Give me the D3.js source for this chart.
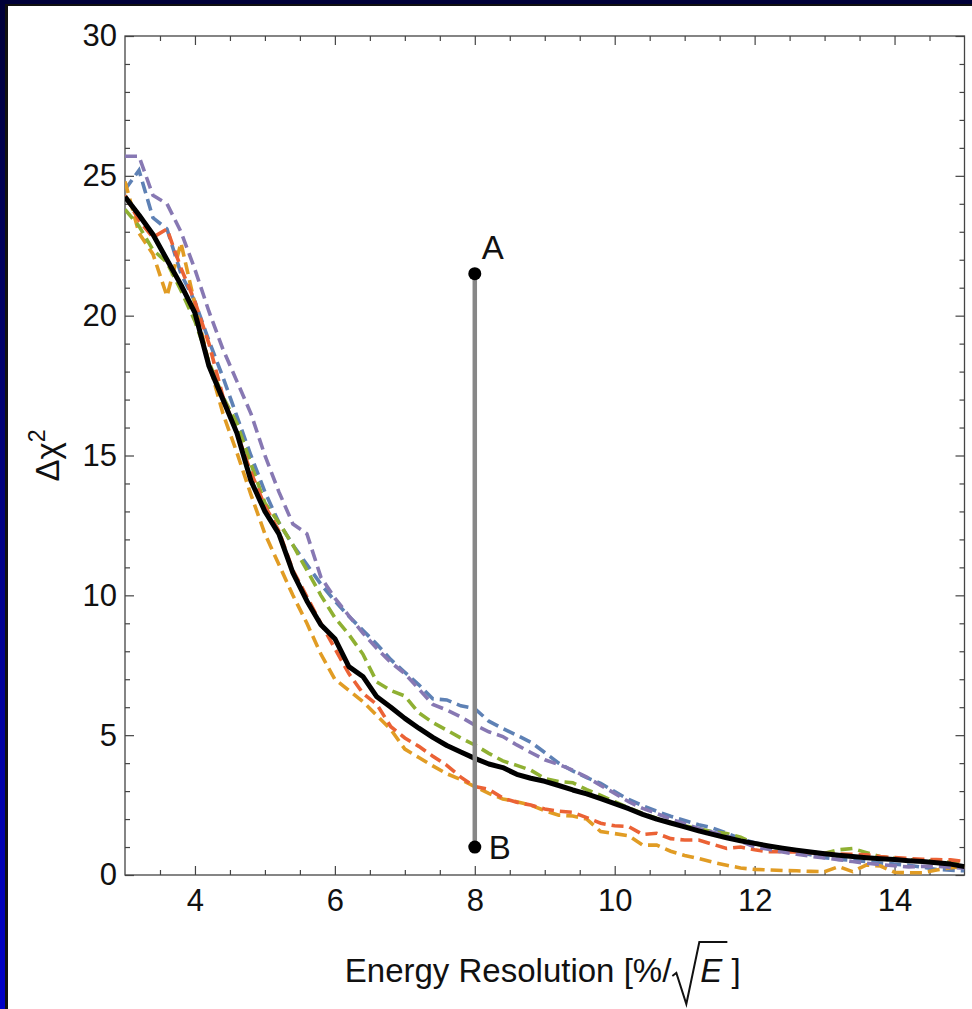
<!DOCTYPE html>
<html>
<head>
<meta charset="utf-8">
<script src="https://cdn.jsdelivr.net/npm/d3@7"></script>
<style>
  html, body { margin: 0; padding: 0; background: #000; }
  svg { display: block; }
  text { font-family: "Liberation Sans", Arial, Helvetica, sans-serif; fill: #111; }
</style>
</head>
<body>
<svg id="chart"></svg>
<script>
// Energy resolution grid (%/sqrt(E))
const xs = [3.0, 3.2, 3.4, 3.6, 3.8, 4.0, 4.2, 4.4, 4.6, 4.8,
            5.0, 5.2, 5.4, 5.6, 5.8, 6.0, 6.2, 6.4, 6.6, 6.8,
            7.0, 7.2, 7.4, 7.6, 7.8, 8.0, 8.2, 8.4, 8.6, 8.8,
            9.0, 9.2, 9.4, 9.6, 9.8, 10.0, 10.2, 10.4, 10.6, 10.8,
            11.0, 11.2, 11.4, 11.6, 11.8, 12.0, 12.2, 12.4, 12.6, 12.8,
            13.0, 13.2, 13.4, 13.6, 13.8, 14.0, 14.2, 14.4, 14.6, 14.8, 15.0];

// Delta chi^2 curves
const meanCurve = [24.25, 23.6, 22.9, 22.0, 21.1, 20.1, 18.2, 17.0, 15.8, 14.1,
                   13.0, 12.2, 10.8, 9.8, 8.95, 8.45, 7.45, 7.1, 6.37, 6.0,
                   5.6, 5.25, 4.92, 4.63, 4.4, 4.17, 3.97, 3.84, 3.6, 3.46,
                   3.35, 3.2, 3.04, 2.9, 2.73, 2.55, 2.37, 2.17, 2.0, 1.86,
                   1.72, 1.58, 1.45, 1.33, 1.22, 1.13, 1.04, 0.96, 0.89, 0.82,
                   0.76, 0.71, 0.66, 0.62, 0.58, 0.55, 0.51, 0.48, 0.44, 0.39, 0.30];
const blueRun = [24.5, 25.2, 23.5, 23.1, 21.5, 20.5, 19.1, 17.8, 16.4, 15.0,
                 13.7, 12.6, 11.8, 11.1, 10.4, 9.8, 9.25, 8.75, 8.25, 7.7,
                 7.25, 6.8, 6.3, 6.26, 6.05, 5.95, 5.5, 5.24, 5.0, 4.75,
                 4.38, 4.0, 3.72, 3.48, 3.28, 2.98, 2.7, 2.48, 2.28, 2.1,
                 1.95, 1.8, 1.68, 1.5, 1.3, 1.15, 1.03, 0.93, 0.83, 0.72,
                 0.62, 0.56, 0.52, 0.48, 0.43, 0.39, 0.35, 0.28, 0.2, 0.17, 0.15];
const orangeRun = [24.8, 22.95, 22.2, 20.7, 22.6, 20.4, 18.3, 16.5, 15.1, 13.6,
                   12.2, 11.1, 10.0, 9.0, 7.9, 7.0, 6.6, 6.2, 5.7, 5.2,
                   4.5, 4.2, 3.9, 3.62, 3.41, 3.16, 2.92, 2.72, 2.62, 2.5,
                   2.3, 2.14, 2.11, 2.0, 1.55, 1.48, 1.4, 1.07, 1.07, 0.85,
                   0.7, 0.59, 0.46, 0.35, 0.25, 0.2, 0.18, 0.16, 0.15, 0.13,
                   0.12, 0.3, 0.12, 0.36, 0.32, 0.1, 0.08, 0.08, 0.18, 0.26, 0.3];
const greenRun = [23.8, 23.2, 22.35, 21.9, 20.9, 19.8, 18.35, 17.1, 16.15, 14.7,
                  13.3, 12.6, 11.8, 10.9, 10.0, 9.2, 8.6, 7.9, 6.9, 6.6,
                  6.4, 5.8, 5.45, 5.18, 4.9, 4.65, 4.35, 4.08, 3.92, 3.75,
                  3.45, 3.34, 3.3, 3.05, 2.85, 2.62, 2.4, 2.2, 2.03, 1.88,
                  1.76, 1.65, 1.55, 1.48, 1.35, 1.12, 1.02, 0.93, 0.87, 0.82,
                  0.78, 0.9, 0.95, 0.8, 0.65, 0.6, 0.55, 0.52, 0.5, 0.45, 0.4];
const redRun = [24.3, 23.4, 22.8, 23.1, 21.7, 20.5, 19.0, 17.1, 15.8, 14.4,
                13.2, 12.3, 10.9, 9.95, 9.0, 8.1, 7.2, 6.5, 6.1, 5.3,
                4.9, 4.6, 4.25, 3.92, 3.5, 3.16, 3.06, 2.75, 2.6, 2.5,
                2.36, 2.28, 2.24, 2.05, 1.85, 1.76, 1.73, 1.45, 1.49, 1.3,
                1.25, 1.25, 1.1, 0.95, 1.0, 0.9, 0.83, 0.83, 0.82, 0.8,
                0.77, 0.75, 0.74, 0.72, 0.66, 0.62, 0.59, 0.56, 0.55, 0.54, 0.48];
const purpleRun = [25.7, 25.7, 24.3, 24.0, 23.0, 21.65, 20.15, 18.8, 17.65, 16.5,
                   15.0, 13.7, 12.55, 12.2, 10.65, 9.9, 9.27, 8.65, 8.1, 7.6,
                   7.2, 6.65, 6.1, 5.9, 5.65, 5.36, 5.12, 4.95, 4.65, 4.38,
                   4.12, 3.95, 3.75, 3.5, 3.2, 2.92, 2.62, 2.38, 2.2, 2.0,
                   1.83, 1.66, 1.53, 1.4, 1.2, 1.0, 0.92, 0.82, 0.74, 0.67,
                   0.61, 0.55, 0.48, 0.42, 0.37, 0.33, 0.29, 0.31, 0.31, 0.28, 0.24];

const dashedSeries = [
    { name: 'blue', values: blueRun, color: '#5E81B5' },
    { name: 'orange', values: orangeRun, color: '#E19C24' },
    { name: 'green', values: greenRun, color: '#8FB032' },
    { name: 'red', values: redRun, color: '#EB6235' },
    { name: 'purple', values: purpleRun, color: '#8778B3' }
];

// Marked points A and B at 8 %/sqrt(E)
const markers = [
    { label: 'A', x: 8, y: 21.5 },
    { label: 'B', x: 8, y: 1.0 }
];

const xMajor = [4, 6, 8, 10, 12, 14];
const yMajor = [0, 5, 10, 15, 20, 25, 30];

const config = {
    width: 972,
    height: 1009,
    plot: { left: 125, right: 964.5, top: 36, bottom: 875 },
    tickFont: 31,
    titleFont: 33
};

const svg = d3.select('#chart')
    .attr('width', config.width)
    .attr('height', config.height);

// Slide-style background: blue gradient, dark edge, white sheet
const defs = svg.append('defs');
const grad = defs.append('linearGradient')
    .attr('id', 'bg')
    .attr('x1', 0).attr('y1', 0).attr('x2', 0).attr('y2', 1);
grad.append('stop').attr('offset', '0%').attr('stop-color', '#000038');
grad.append('stop').attr('offset', '100%').attr('stop-color', '#0000c8');

svg.append('rect').attr('width', config.width).attr('height', config.height).attr('fill', 'url(#bg)');
svg.append('rect').attr('x', 5).attr('y', 4).attr('width', config.width).attr('height', config.height).attr('fill', '#111');
svg.append('rect').attr('x', 8).attr('y', 6).attr('width', config.width).attr('height', config.height).attr('fill', '#fff');

// Scales
const x = d3.scaleLinear().domain([3, 15]).range([config.plot.left, config.plot.right]);
const y = d3.scaleLinear().domain([0, 30]).range([config.plot.bottom, config.plot.top]);

const xMinor = d3.range(3.5, 15, 0.5).filter(v => !xMajor.includes(v));
const yMinor = d3.range(1, 30, 1).filter(v => !yMajor.includes(v));

const axesGroup = svg.append('g').attr('class', 'axes');

function tickAxis(axisFn, scale, values, size, transform) {
    const g = axesGroup.append('g')
        .attr('transform', transform)
        .call(axisFn(scale).tickValues(values).tickSize(size).tickSizeOuter(0).tickFormat(''));
    g.select('.domain').remove();
    g.selectAll('line').attr('stroke', '#444').attr('stroke-width', 1.2);
    return g;
}

const h = config.plot.bottom, t = config.plot.top, l = config.plot.left, r = config.plot.right;

// inward ticks on all four sides
tickAxis(d3.axisBottom, x, xMinor, -5, `translate(0,${h})`);
tickAxis(d3.axisBottom, x, xMajor, -9, `translate(0,${h})`);
tickAxis(d3.axisTop, x, xMinor, -5, `translate(0,${t})`);
tickAxis(d3.axisTop, x, xMajor, -9, `translate(0,${t})`);
tickAxis(d3.axisLeft, y, yMinor, -5, `translate(${l},0)`);
tickAxis(d3.axisLeft, y, yMajor, -9, `translate(${l},0)`);
tickAxis(d3.axisRight, y, yMinor, -5, `translate(${r},0)`);
tickAxis(d3.axisRight, y, yMajor, -9, `translate(${r},0)`);

// frame
axesGroup.append('rect')
    .attr('x', l).attr('y', t)
    .attr('width', r - l).attr('height', h - t)
    .attr('fill', 'none').attr('stroke', '#444').attr('stroke-width', 1.3);

// tick labels
const xLab = axesGroup.append('g')
    .attr('transform', `translate(0,${h})`)
    .call(d3.axisBottom(x).tickValues(xMajor).tickSize(0).tickPadding(14));
xLab.select('.domain').remove();
xLab.selectAll('text').attr('font-size', config.tickFont).attr('fill', '#111')
    .attr('font-family', '"Liberation Sans", Arial, sans-serif');

const yLab = axesGroup.append('g')
    .attr('transform', `translate(${l},0)`)
    .call(d3.axisLeft(y).tickValues(yMajor).tickSize(0).tickPadding(8));
yLab.select('.domain').remove();
yLab.selectAll('text').attr('font-size', config.tickFont).attr('fill', '#111')
    .attr('font-family', '"Liberation Sans", Arial, sans-serif');

// Curves
const clip = defs.append('clipPath').attr('id', 'plotclip');
clip.append('rect').attr('x', l).attr('y', t).attr('width', r - l).attr('height', h - t);

const line = d3.line()
    .x(d => x(d[0]))
    .y(d => y(d[1]));

const curves = svg.append('g').attr('clip-path', 'url(#plotclip)');

curves.selectAll('.dashed')
    .data(dashedSeries)
    .enter()
    .append('path')
    .attr('class', 'dashed')
    .attr('d', d => line(xs.map((v, i) => [v, d.values[i]])))
    .attr('fill', 'none')
    .attr('stroke', d => d.color)
    .attr('stroke-width', 3.6)
    .attr('stroke-dasharray', '12,6');

curves.append('path')
    .attr('d', line(xs.map((v, i) => [v, meanCurve[i]])))
    .attr('fill', 'none')
    .attr('stroke', '#000')
    .attr('stroke-width', 5)
    .attr('stroke-linejoin', 'round');

// A-B segment
const markGroup = svg.append('g');
markGroup.append('line')
    .attr('x1', x(markers[0].x)).attr('y1', y(markers[0].y))
    .attr('x2', x(markers[1].x)).attr('y2', y(markers[1].y))
    .attr('stroke', '#878787')
    .attr('stroke-width', 4.5);

markGroup.selectAll('circle')
    .data(markers)
    .enter()
    .append('circle')
    .attr('cx', d => x(d.x))
    .attr('cy', d => y(d.y))
    .attr('r', 6.5)
    .attr('fill', '#000');

markGroup.selectAll('.mark-label')
    .data(markers)
    .enter()
    .append('text')
    .attr('class', 'mark-label')
    .attr('x', d => x(d.x) + (d.label === 'A' ? 7 : 14))
    .attr('y', d => y(d.y) + (d.label === 'A' ? -15 : 0))
    .attr('dy', d => d.label === 'A' ? '0' : '0.36em')
    .attr('font-size', config.titleFont)
    .text(d => d.label);

// Y axis title: Δχ²
const yTitle = svg.append('text')
    .attr('transform', `translate(59,${(t + h) / 2}) rotate(-90)`)
    .attr('text-anchor', 'middle')
    .attr('font-size', config.titleFont);
yTitle.append('tspan').text('Δχ');
yTitle.append('tspan').attr('font-size', config.titleFont * 0.7).attr('dy', '-0.6em').text('2');

// X axis title with radical
const xTitle = svg.append('g');
const baseY = 982;
const t1 = xTitle.append('text').attr('y', baseY).attr('font-size', config.titleFont)
    .text('Energy Resolution [%/');
const w1 = t1.node().getComputedTextLength();
const tE = xTitle.append('text').attr('y', baseY).attr('font-size', config.titleFont)
    .attr('font-style', 'italic').text('E');
const wE = tE.node().getComputedTextLength();
const t3 = xTitle.append('text').attr('y', baseY).attr('font-size', config.titleFont).text('\u00A0]');
const w3 = t3.node().getComputedTextLength();
const radW = 29;
const total = w1 + radW + wE + w3;
const x0 = (l + r) / 2 - total / 2 - 2;
t1.attr('x', x0);
const rx = x0 + w1;
tE.attr('x', rx + radW);
t3.attr('x', rx + radW + wE);
xTitle.append('path')
    .attr('d', `M${rx + 1},${baseY - 6} L${rx + 5},${baseY - 9} L${rx + 15},${baseY + 22} L${rx + 28},${baseY - 40} L${rx + radW + wE + 5},${baseY - 40}`)
    .attr('fill', 'none')
    .attr('stroke', '#111')
    .attr('stroke-width', 2);
</script>
</body>
</html>
